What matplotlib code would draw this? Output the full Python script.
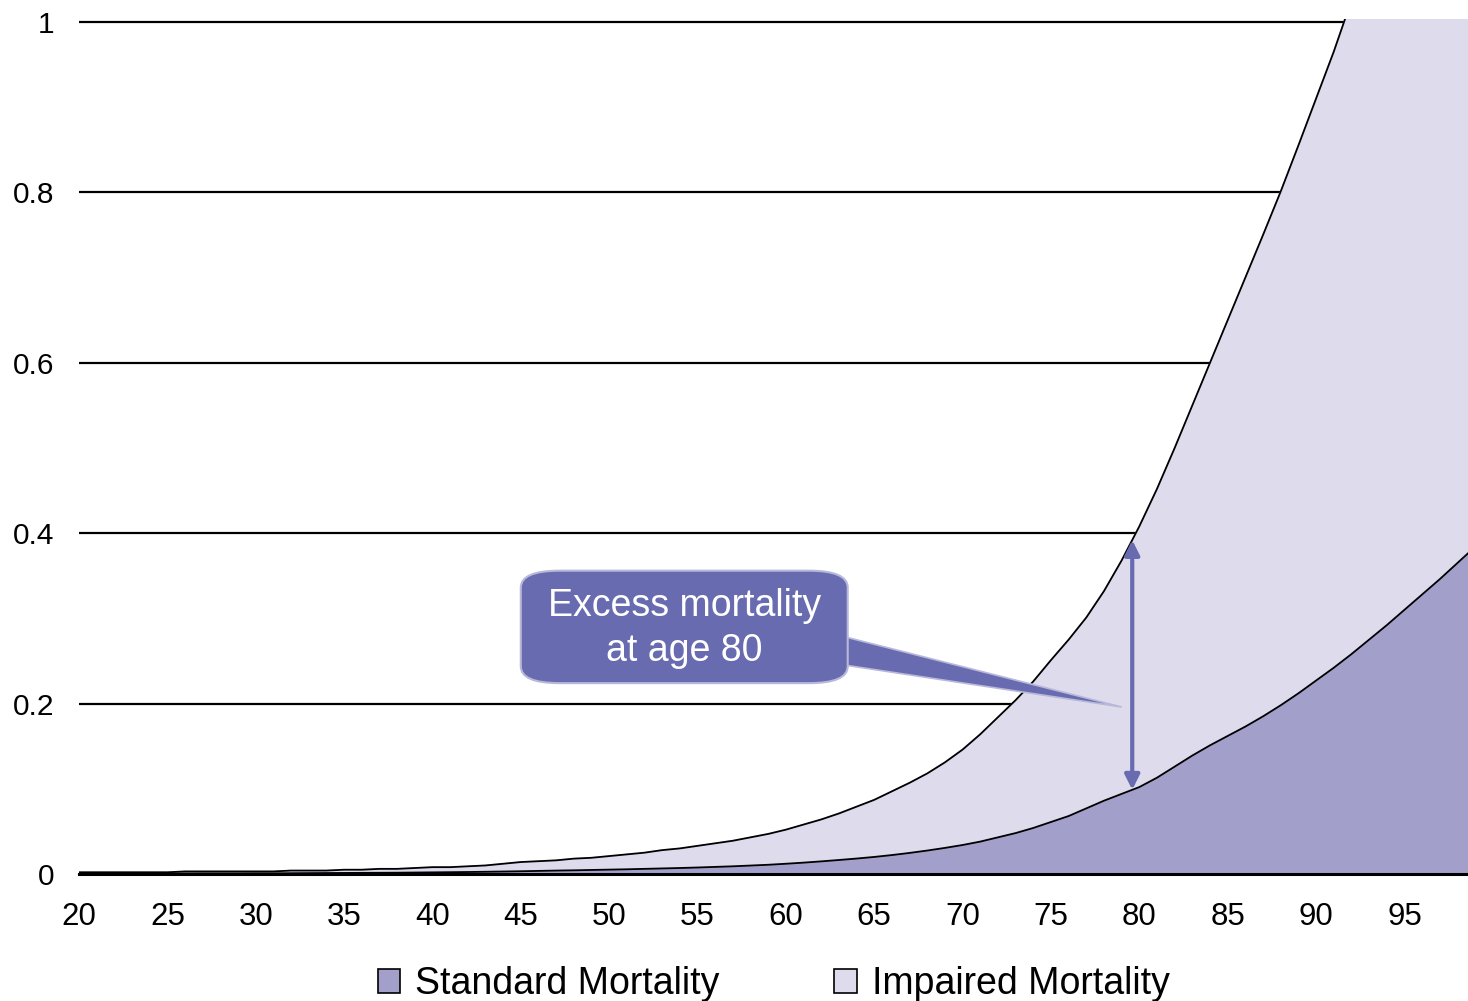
import numpy as np
import matplotlib
matplotlib.use("Agg")
import matplotlib.pyplot as plt
from matplotlib.patches import FancyBboxPatch, Polygon, Patch

plt.rcParams['font.family'] = ['Liberation Sans', 'DejaVu Sans']

# возраст 20..99
ages = list(range(20, 100))

standard = [
    0.0006, 0.0006, 0.0006, 0.0006, 0.0006, 0.0006, 0.0006, 0.0007, 0.0007, 0.0007,   # 20-29
    0.0008, 0.0008, 0.0009, 0.0010, 0.0011, 0.0012, 0.0013, 0.0014, 0.0015, 0.0017,   # 30-39
    0.0019, 0.0021, 0.0023, 0.0026, 0.0029, 0.0032, 0.0036, 0.0040, 0.0043, 0.0047,   # 40-49
    0.0051, 0.0055, 0.0060, 0.0065, 0.0070, 0.0076, 0.0083, 0.0090, 0.0099, 0.0108,   # 50-59
    0.0120, 0.0133, 0.0148, 0.0164, 0.0181, 0.0200, 0.0222, 0.0247, 0.0275, 0.0306,   # 60-69
    0.034, 0.038, 0.043, 0.048, 0.054, 0.061, 0.068, 0.077, 0.086, 0.094,             # 70-79
    0.102, 0.113, 0.126, 0.139, 0.151, 0.162, 0.173, 0.185, 0.198, 0.212,             # 80-89
    0.227, 0.242, 0.258, 0.275, 0.292, 0.310, 0.328, 0.346, 0.365, 0.384,             # 90-99
]

impaired = [
    0.002, 0.002, 0.002, 0.002, 0.002, 0.002, 0.003, 0.003, 0.003, 0.003,   # 20-29
    0.003, 0.003, 0.004, 0.004, 0.004, 0.005, 0.005, 0.006, 0.006, 0.007,   # 30-39
    0.008, 0.008, 0.009, 0.010, 0.012, 0.014, 0.015, 0.016, 0.018, 0.019,   # 40-49
    0.021, 0.023, 0.025, 0.028, 0.030, 0.033, 0.036, 0.039, 0.043, 0.047,   # 50-59
    0.052, 0.058, 0.064, 0.071, 0.079, 0.087, 0.097, 0.107, 0.118, 0.131,   # 60-69
    0.146, 0.164, 0.184, 0.204, 0.226, 0.251, 0.275, 0.301, 0.332, 0.368,   # 70-79
    0.408, 0.452, 0.500, 0.550, 0.600, 0.650, 0.700, 0.750, 0.801, 0.855,   # 80-89
    0.910, 0.965, 1.025, 1.085, 1.150, 1.220, 1.290, 1.365, 1.440, 1.520,   # 90-99
]

x_ticks = list(range(20, 100, 5))
y_ticks = [0, 0.2, 0.4, 0.6, 0.8, 1.0]
y_labels = ["0", "0.2", "0.4", "0.6", "0.8", "1"]

c_std = "#A29FCB"
c_imp = "#DDDBEC"
c_call = "#686BB0"

fig = plt.figure(figsize=(14.68, 10.01), dpi=100)
ax = fig.add_axes([0.0538, 0.1269, 0.9462, 0.8545])

for y in y_ticks[1:]:
    ax.axhline(y, color="black", lw=1.6, zorder=0)

ax.fill_between(ages, impaired, 0, color=c_imp, zorder=1)
ax.plot(ages, impaired, color="black", lw=1.3, zorder=2)
ax.fill_between(ages, standard, 0, color=c_std, zorder=3)
ax.plot(ages, standard, color="black", lw=1.3, zorder=4)

ax.set_xlim(20, 98.6)
ax.set_ylim(0, 1.004)
ax.set_xticks(x_ticks)
ax.set_yticks(y_ticks)
ax.set_yticklabels(y_labels)
ax.tick_params(axis="both", length=0)
ax.tick_params(axis="x", labelsize=22.5, pad=20.5)
ax.tick_params(axis="y", labelsize=21.5, pad=17.5)
for s in ["top", "right", "left"]:
    ax.spines[s].set_visible(False)
ax.spines["bottom"].set_linewidth(2.2)
ax.spines["bottom"].set_zorder(5)

# стрелка: разница при возрасте 80
xa = 79.6
y_lo = np.interp(xa, ages, standard)
y_hi = np.interp(xa, ages, impaired)
ax.annotate("", xy=(xa, y_hi), xytext=(xa, y_lo),
            arrowprops=dict(arrowstyle="<|-|>", color=c_call, lw=3,
                            mutation_scale=22, shrinkA=0, shrinkB=0), zorder=6)

# выноска
wedge = Polygon([(63.4, 0.278), (63.4, 0.245), (79.0, 0.196)], closed=True,
                facecolor=c_call, edgecolor="#B7B8DA", lw=1.2, zorder=6)
ax.add_patch(wedge)
box = FancyBboxPatch((45.0, 0.224), 18.5, 0.132,
                     boxstyle="round,pad=0,rounding_size=2.2",
                     mutation_aspect=0.009,
                     facecolor=c_call, edgecolor="#B7B8DA", lw=1.5, zorder=7)
ax.add_patch(box)
ax.text(54.25, 0.288, "Excess mortality\nat age 80", color="white", fontsize=27,
        ha="center", va="center", linespacing=1.3, zorder=8)

handles = [Patch(facecolor=c_std, edgecolor="black", lw=1.2, label="Standard Mortality"),
           Patch(facecolor=c_imp, edgecolor="black", lw=1.2, label="Impaired Mortality")]
fig.legend(handles=handles, loc="lower center", bbox_to_anchor=(0.527, -0.035), ncol=2,
           frameon=False, fontsize=27, handlelength=0.6, handleheight=0.6,
           handletextpad=0.4, columnspacing=3.05)

fig.savefig("out.png", dpi=100)
